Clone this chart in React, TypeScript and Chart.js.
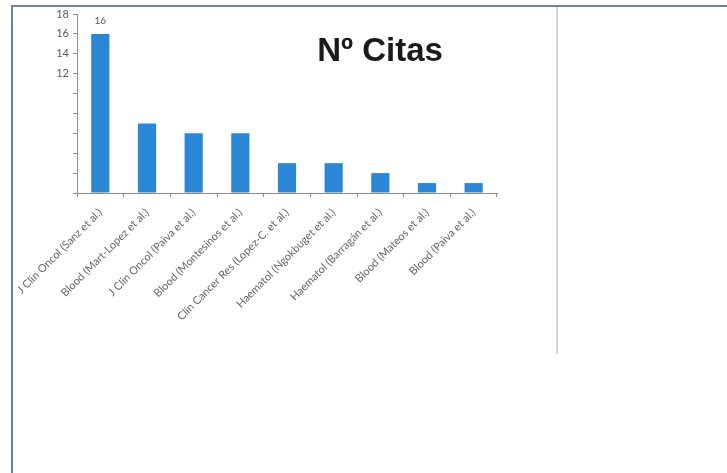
import React, { useEffect, useRef } from "react";
import { Chart, registerables } from "chart.js";

Chart.register(...registerables);

const categories = [
  "J Clin Oncol (Sanz et al.)",
  "Blood (Mart-Lopez et al.)",
  "J Clin Oncol (Paiva et al.)",
  "Blood (Montesinos et al.)",
  "Clin Cancer Res (Lopez-C. et al.)",
  "Haematol (Ngokbuget et al.)",
  "Haematol (Barragán et al.)",
  "Blood (Mateos et al.)",
  "Blood (Paiva et al.)",
];
const citas = [16, 7, 6, 6, 3, 3, 2, 1, 1];
const labeledIndex = [0];
const yMax = 18;
const yStep = 2;
const yLabelFrom = 12;
const titleText = "Nº Citas";

const valueLabelPlugin = {
  id: "valueLabel",
  afterDatasetsDraw(chart: any) {
    const ctx = chart.ctx;
    const meta = chart.getDatasetMeta(0);
    ctx.save();
    ctx.font = "10px Lato, 'Open Sans', sans-serif";
    ctx.fillStyle = "#595959";
    ctx.textAlign = "center";
    ctx.textBaseline = "bottom";
    labeledIndex.forEach((i) => {
      const el = meta.data[i];
      ctx.fillText(String(citas[i]), el.x, el.y - 8);
    });
    ctx.restore();
  },
};

export default function App() {
  const ref = useRef<HTMLCanvasElement>(null);
  useEffect(() => {
    if (!ref.current) return;
    const chart = new Chart(ref.current, {
      type: "bar",
      data: {
        labels: categories,
        datasets: [
          {
            label: titleText,
            data: citas,
            backgroundColor: "#2b86d6",
            barPercentage: 0.39,
            categoryPercentage: 1,
          },
        ],
      },
      options: {
        responsive: false,
        animation: false,
        layout: { padding: { left: 47, right: 230, top: 14, bottom: 140 } },
        plugins: { legend: { display: false }, tooltip: { enabled: false } },
        scales: {
          x: {
            offset: true,
            grid: { display: true, drawOnChartArea: false, offset: true, tickLength: 4, color: "#8c8c8c" },
            border: { display: true, color: "#8c8c8c", width: 1 },
            ticks: {
              autoSkip: false,
              maxRotation: 45,
              minRotation: 45,
              padding: 9,
              color: "#666666",
              font: { size: 11, family: "Lato, 'Open Sans', sans-serif" },
            },
            afterFit(scale: any) {
              scale.height = 140;
              scale.paddingLeft = 0;
              scale.paddingRight = 0;
            },
          },
          y: {
            min: 0,
            max: yMax,
            grid: { display: true, drawOnChartArea: false, tickLength: 4, color: "#8c8c8c" },
            border: { display: true, color: "#8c8c8c", width: 1 },
            ticks: {
              stepSize: yStep,
              padding: 4,
              color: "#595959",
              font: { size: 11, family: "Lato, 'Open Sans', sans-serif" },
              callback: (v: any) => (Number(v) >= yLabelFrom ? String(v) : ""),
            },
            afterFit(scale: any) {
              scale.width = 30;
              scale.paddingTop = 0;
              scale.paddingBottom = 0;
            },
          },
        },
      },
      plugins: [valueLabelPlugin],
    });
    return () => chart.destroy();
  }, []);

  return (
    <div style={{ position: "fixed", left: 0, top: 0, width: 727, height: 473, background: "#fff", overflow: "hidden" }}>
      <canvas ref={ref} width={727} height={473} style={{ position: "absolute", left: 0, top: 0, width: 727, height: 473 }} />
      <div
        style={{
          position: "absolute",
          left: 300,
          top: 31,
          width: 160,
          textAlign: "center",
          fontFamily: "'Liberation Sans', Arial, sans-serif",
          fontWeight: "bold",
          fontSize: 33,
          lineHeight: "38px",
          color: "#1a1a1a",
          whiteSpace: "nowrap",
        }}
      >
        {titleText}
      </div>
      <div style={{ position: "absolute", left: 11, top: 5, width: 716, height: 2, background: "#6a84a0" }} />
      <div style={{ position: "absolute", left: 11, top: 5, width: 2, height: 468, background: "#6a84a0" }} />
      <div style={{ position: "absolute", left: 556, top: 7, width: 2, height: 347, background: "#d6d6d6" }} />
    </div>
  );
}
